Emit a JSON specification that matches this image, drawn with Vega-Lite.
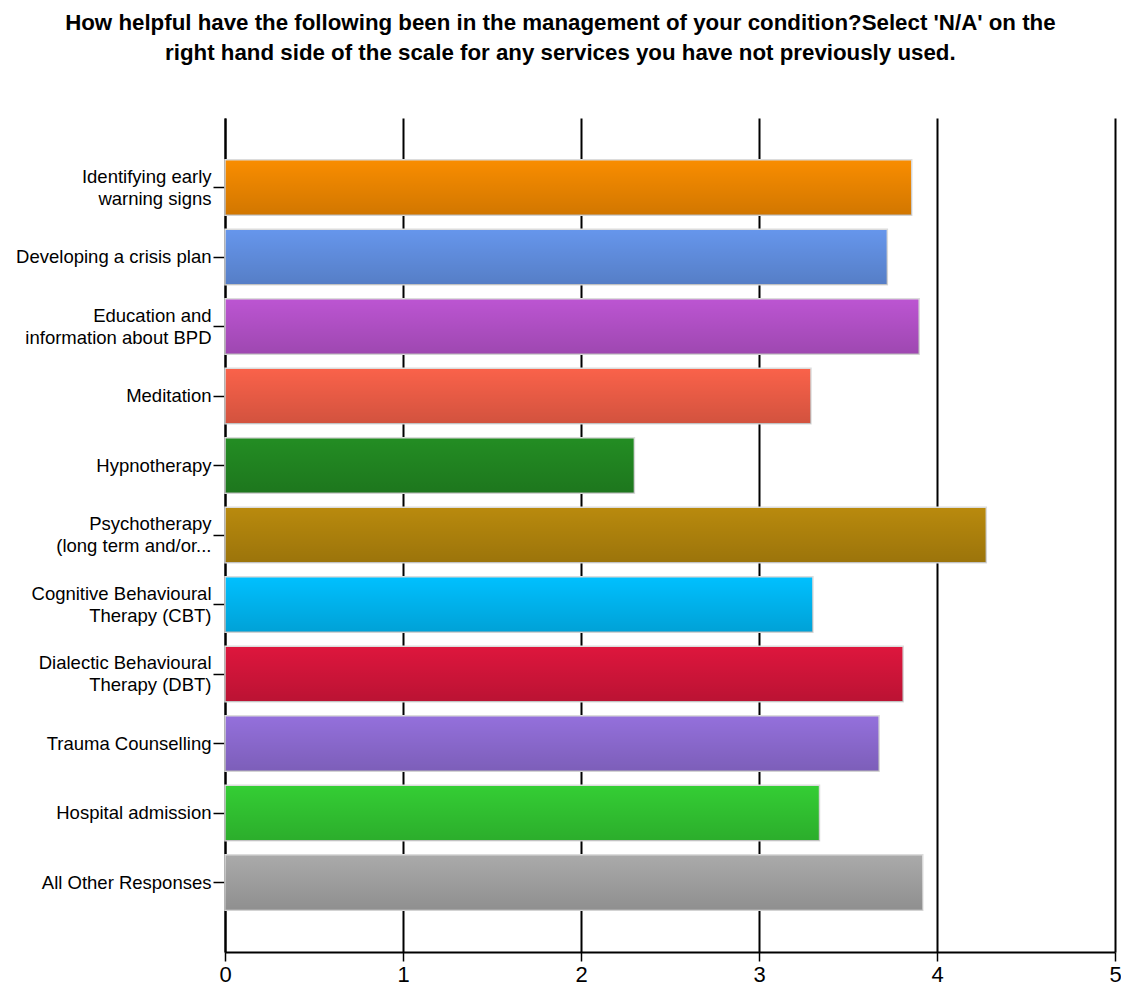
{
  "$schema": "https://vega.github.io/schema/vega-lite/v6.json",
  "autosize": "none",
  "width": 890,
  "height": 834,
  "padding": {"left": 225, "top": 118, "right": 6, "bottom": 38},
  "background": "white",
  "title": {
    "text": ["How helpful have the following been in the management of your condition?Select 'N/A' on the", "right hand side of the scale for any services you have not previously used."],
    "font": "Liberation Sans",
    "fontSize": 22.3,
    "fontWeight": "bold",
    "color": "black",
    "anchor": "middle",
    "frame": "bounds",
    "lineHeight": 30,
    "offset": 54,
    "dx": -8
  },
  "data": {
    "values": [
      {"item": "Identifying early\nwarning signs", "score": 3.858},
      {"item": "Developing a crisis plan", "score": 3.721},
      {"item": "Education and\ninformation about BPD", "score": 3.9},
      {"item": "Meditation", "score": 3.292},
      {"item": "Hypnotherapy", "score": 2.3},
      {"item": "Psychotherapy\n(long term and/or...", "score": 4.277},
      {"item": "Cognitive Behavioural\nTherapy (CBT)", "score": 3.303},
      {"item": "Dialectic Behavioural\nTherapy (DBT)", "score": 3.81},
      {"item": "Trauma Counselling", "score": 3.675},
      {"item": "Hospital admission", "score": 3.34},
      {"item": "All Other Responses", "score": 3.92}
    ]
  },
  "encoding": {
    "y": {
      "field": "item",
      "type": "nominal",
      "sort": null,
      "title": null,
      "scale": {"paddingInner": 0.2, "paddingOuter": 0.6},
      "axis": {
        "labelExpr": "split(datum.value, '\\n')",
        "labelFont": "Liberation Sans",
        "labelFontSize": 18.5,
        "labelColor": "black",
        "labelLineHeight": 22,
        "labelPadding": 2,
        "labelOffset": {"condition": {"test": "indexof(datum.value, '\\n') >= 0", "value": -11}, "value": 0},
        "tickSize": 12,
        "tickColor": "black",
        "tickWidth": 1.5,
        "domainColor": "black",
        "domainWidth": 2,
        "grid": false,
        "labelLimit": 300
      }
    },
    "x": {
      "field": "score",
      "type": "quantitative",
      "title": null,
      "scale": {"domain": [0, 5], "nice": false},
      "axis": {
        "values": [0, 1, 2, 3, 4, 5],
        "format": "d",
        "labelFont": "Liberation Sans",
        "labelFontSize": 22,
        "labelColor": "black",
        "labelPadding": 3,
        "labelFlush": false,
        "tickSize": 9,
        "tickColor": "black",
        "tickWidth": 1.5,
        "domainColor": "black",
        "domainWidth": 2,
        "grid": true,
        "gridColor": "black",
        "gridWidth": 2,
        "gridOpacity": 1
      }
    }
  },
  "layer": [
    {
      "mark": {"type": "bar", "stroke": "#dcdcdc", "strokeWidth": 1.5, "cornerRadius": 0},
      "encoding": {
        "color": {
          "field": "item",
          "type": "nominal",
          "legend": null,
          "scale": {
            "domain": ["Identifying early\nwarning signs", "Developing a crisis plan", "Education and\ninformation about BPD", "Meditation", "Hypnotherapy", "Psychotherapy\n(long term and/or...", "Cognitive Behavioural\nTherapy (CBT)", "Dialectic Behavioural\nTherapy (DBT)", "Trauma Counselling", "Hospital admission", "All Other Responses"],
            "range": ["#f98d00", "#6696ec", "#bc55d2", "#fa624a", "#238d23", "#b98a0d", "#00c0ff", "#de163d", "#9470dc", "#34ce34", "#aaaaaa"]
          }
        }
      }
    },
    {
      "mark": {
        "type": "bar",
        "color": {
          "gradient": "linear",
          "x1": 0, "y1": 0, "x2": 0, "y2": 1,
          "stops": [
            {"offset": 0, "color": "rgba(0,0,0,0)"},
            {"offset": 1, "color": "rgba(0,0,0,0.16)"}
          ]
        },
        "strokeWidth": 0
      }
    }
  ],
  "config": {
    "view": {"stroke": null},
    "axis": {"labelFont": "Liberation Sans"}
  }
}
